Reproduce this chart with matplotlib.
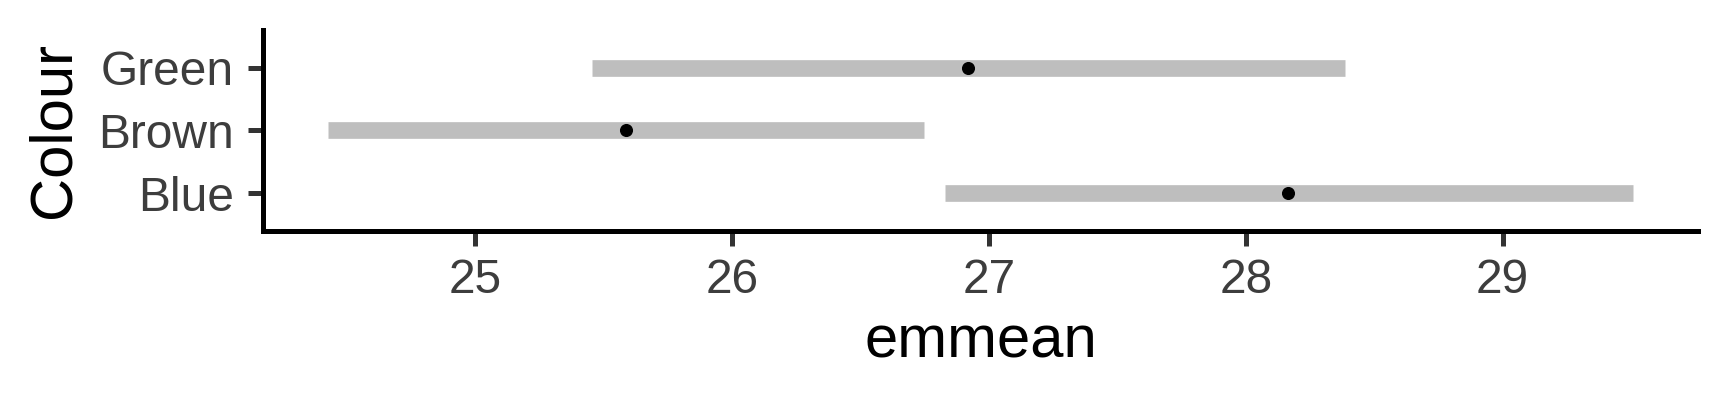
import matplotlib
matplotlib.use("Agg")
import matplotlib.pyplot as plt

# estimated marginal means with confidence limits
colours = ["Blue", "Brown", "Green"]
emmean = [28.166, 25.587, 26.920]
lower_cl = [26.828, 24.427, 25.453]
upper_cl = [29.506, 26.747, 28.387]
x_ticks = [25, 26, 27, 28, 29]

plt.rcParams["font.family"] = ["Liberation Sans", "DejaVu Sans"]

fig = plt.figure(figsize=(17.28, 4.03), dpi=100)
ax = fig.add_axes([0.1522, 0.4268, 0.8303, 0.4988])

ypos = list(range(1, len(colours) + 1))

# confidence bars
ax.hlines(ypos, lower_cl, upper_cl, colors="#BEBEBE", linewidth=12,
          capstyle="butt", zorder=1)
# means
ax.plot(emmean, ypos, "o", color="black", markersize=8.4, zorder=2)

# ggplot-style expansion
lo, hi = min(lower_cl), max(upper_cl)
pad = 0.05 * (hi - lo)
ax.set_xlim(lo - pad, hi + pad)
ax.set_ylim(0.4, len(colours) + 0.6)

ax.set_yticks(ypos)
ax.set_yticklabels(colours)
ax.set_xticks(x_ticks)
ax.set_xticklabels([str(t) for t in x_ticks])

# classic theme
for side in ["top", "right"]:
    ax.spines[side].set_visible(False)
for side in ["left", "bottom"]:
    ax.spines[side].set_linewidth(3.6)
    ax.spines[side].set_color("black")
    ax.spines[side].set_capstyle("projecting")

ax.tick_params(axis="both", length=10.5, width=3.6, color="#333333",
               labelcolor="#3D3D3D", labelsize=34.5)
ax.tick_params(axis="x", pad=9)
ax.tick_params(axis="y", pad=10.5)

ax.set_xlabel("emmean", fontsize=43, color="black", labelpad=8.5)
ax.set_ylabel("Colour", fontsize=43, color="black", labelpad=12)

fig.savefig("out.png", dpi=100, facecolor="white")
